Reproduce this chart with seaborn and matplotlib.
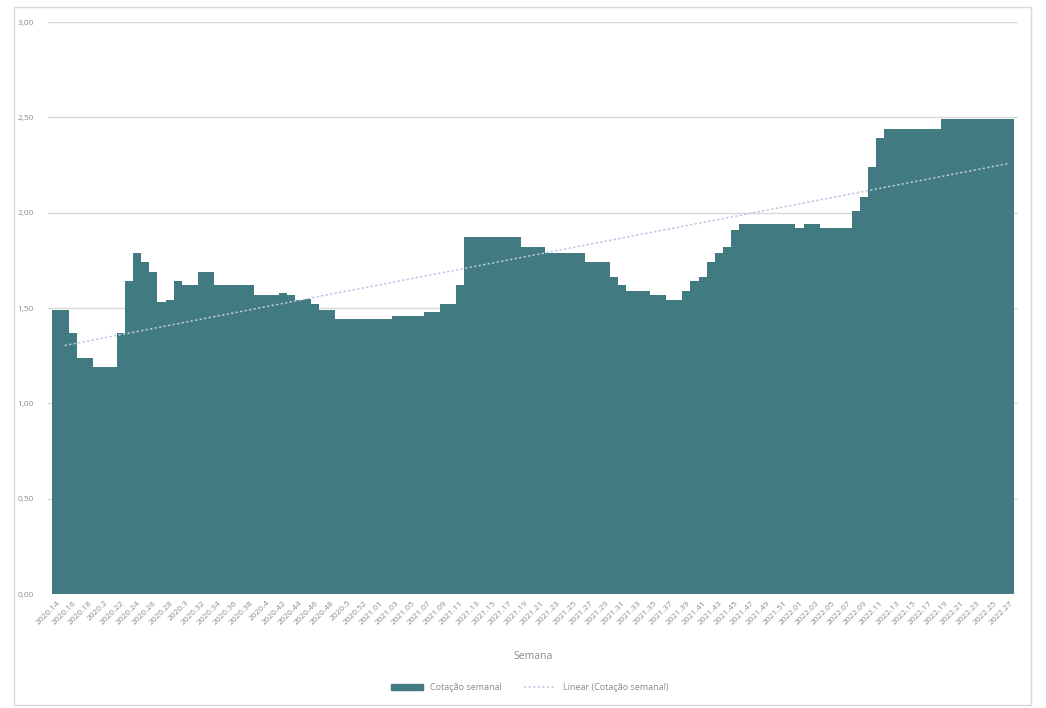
import numpy as np
import matplotlib
matplotlib.use("Agg")
import matplotlib.pyplot as plt
import seaborn as sns
from matplotlib.patches import Rectangle, Patch
from matplotlib.lines import Line2D

sns.set_theme(style="white")
plt.rcParams["font.family"] = ["Open Sans", "DejaVu Sans"]

# weeks: 2020 w14..w53, 2021 w1..w52, 2022 w1..w27
years = [2020] * 40 + [2021] * 52 + [2022] * 27
week_nums = list(range(14, 54)) + list(range(1, 53)) + list(range(1, 28))
# weekly value, as (value, number of weeks) runs
runs = [
    (1.49, 2), (1.37, 1), (1.24, 2), (1.19, 3), (1.37, 1), (1.64, 1), (1.79, 1),
    (1.74, 1), (1.69, 1), (1.53, 1), (1.54, 1), (1.64, 1), (1.62, 2), (1.69, 2),
    (1.62, 5), (1.57, 3), (1.58, 1), (1.57, 1), (1.54, 1), (1.545, 1), (1.52, 1),
    (1.49, 2), (1.44, 7), (1.46, 4), (1.48, 2), (1.52, 2), (1.62, 1), (1.87, 7),
    (1.82, 3), (1.79, 5), (1.74, 3), (1.66, 1), (1.62, 1), (1.59, 3), (1.57, 2),
    (1.54, 2), (1.59, 1), (1.64, 1), (1.66, 1), (1.74, 1), (1.79, 1), (1.82, 1),
    (1.91, 1), (1.94, 7), (1.92, 1), (1.94, 2), (1.92, 4), (2.01, 1), (2.08, 1),
    (2.24, 1), (2.39, 1), (2.44, 7), (2.49, 9),
]
values = [v for v, n in runs for _ in range(n)]


def week_label(y, w):
    s = f"{y}.{w:02d}"
    return s.rstrip("0").rstrip(".") if s.endswith("0") else s


labels = [week_label(y, w) for y, w in zip(years, week_nums)]
yticks = [0, 0.5, 1.0, 1.5, 2.0, 2.5, 3.0]

bar_color = "#427a82"
trend_color = "#b9c6e4"
text_color = "#8c8c8c"

fig = plt.figure(figsize=(10.46, 7.08), dpi=100)
fig.patches.append(Rectangle((14 / 1046, 3 / 708), 1017 / 1046, 698 / 708,
                             transform=fig.transFigure, fill=False,
                             edgecolor="#d9d9d9", linewidth=1))
ax = fig.add_axes([48 / 1046, 1 - 594 / 708, 970 / 1046, 572 / 708])

for t in yticks[1:]:
    ax.axhline(t, color="#d9d9d9", linewidth=1, zorder=0)

sns.barplot(x=labels, y=values, width=1.0, color=bar_color, saturation=1,
            linewidth=0, ax=ax, zorder=2)
for p in ax.patches:
    p.set_antialiased(False)

# linear trendline (like Excel)
xs = np.arange(len(values))
k, b = np.polyfit(xs, values, 1)
ax.plot(xs[1:], k * xs[1:] + b, color=trend_color, linestyle=(0, (1.5, 1.5)),
        linewidth=1.1, zorder=3)

ax.set_xlim(-1.05, len(values) + 0.05)
ax.set_ylim(0, 3.0)
ax.set_yticks(yticks)
ax.set_yticklabels([f"{t:.2f}".replace(".", ",") for t in yticks], fontsize=6, color=text_color)
ax.set_xticks(xs[::2])
ax.set_xticklabels(labels[::2], rotation=45, ha="right", rotation_mode="anchor",
                   fontsize=6, color=text_color)
ax.tick_params(axis="both", length=0, pad=4)
ax.tick_params(axis="y", pad=10)
for s in ax.spines.values():
    s.set_visible(False)
ax.set_xlabel("Semana", fontsize=7.5, color=text_color, labelpad=18)
ax.set_ylabel("")

handles = [Patch(color=bar_color, label="Cotação semanal"),
           Line2D([0], [0], color=trend_color, linestyle=(0, (1.5, 1.5)), linewidth=1.1,
                  label="Linear (Cotação semanal)")]
fig.legend(handles=handles, loc="center", bbox_to_anchor=(530 / 1046, 1 - 688 / 708),
           ncol=2, frameon=False, fontsize=6.5, labelcolor=text_color,
           handlelength=3.5, handleheight=0.6, columnspacing=2.5)

fig.savefig("out.png", dpi=100)
